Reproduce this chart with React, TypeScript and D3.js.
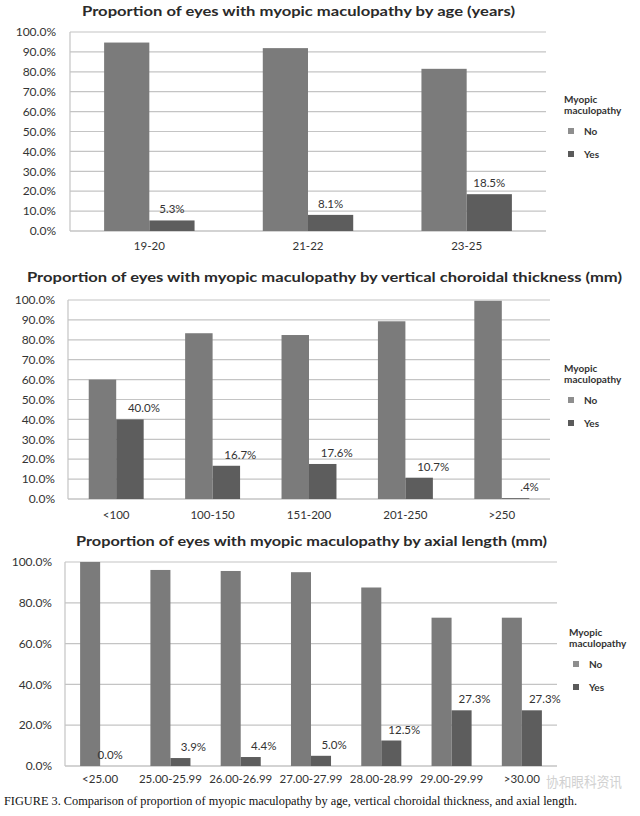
import React from "react";
import * as d3 from "d3";

const seriesNames = ["No", "Yes"];

const ageCats = ["19-20", "21-22", "23-25"];
const ageNo = [94.7, 91.9, 81.5];
const ageYes = [5.3, 8.1, 18.5];
const ageLabels = ["5.3%", "8.1%", "18.5%"];

const chorCats = ["<100", "100-150", "151-200", "201-250", ">250"];
const chorNo = [60.0, 83.3, 82.4, 89.3, 99.6];
const chorYes = [40.0, 16.7, 17.6, 10.7, 0.4];
const chorLabels = ["40.0%", "16.7%", "17.6%", "10.7%", ".4%"];

const axCats = ["<25.00", "25.00-25.99", "26.00-26.99", "27.00-27.99", "28.00-28.99", "29.00-29.99", ">30.00"];
const axNo = [100.0, 96.1, 95.6, 95.0, 87.5, 72.7, 72.7];
const axYes = [0.0, 3.9, 4.4, 5.0, 12.5, 27.3, 27.3];
const axLabels = ["0.0%", "3.9%", "4.4%", "5.0%", "12.5%", "27.3%", "27.3%"];

const ticks10 = [0, 10, 20, 30, 40, 50, 60, 70, 80, 90, 100];
const ticks20 = [0, 20, 40, 60, 80, 100];

const titles = [
  "Proportion of eyes with myopic maculopathy by age (years)",
  "Proportion of eyes with myopic maculopathy by vertical choroidal thickness (mm)",
  "Proportion of eyes with myopic maculopathy by axial length (mm)",
];
const caption = "FIGURE 3. Comparison of proportion of myopic maculopathy by age, vertical choroidal thickness, and axial length.";
const legendTitle = ["Myopic", "maculopathy"];
const watermark = "协和眼科资讯";

const COL_NO = "#7b7b7b";
const COL_YES = "#5d5d5d";
const LEG_NO = "#8e8e8e";
const LEG_YES = "#5a5a5a";
const GRID = "#c4c4c4";
const FONT = "Lato, 'Open Sans', sans-serif";

type ChartProps = {
  title: string;
  titleX: number;
  titleY: number;
  titleLen: number;
  cats: string[];
  no: number[];
  yes: number[];
  labels: string[];
  ticks: number[];
  left: number;
  right: number;
  top: number;
  bottom: number;
  tickX: number;
  catY: number;
  labelDx: number;
  legX: number;
  legY: number;
};

function Chart(p: ChartProps) {
  const y = d3.scaleLinear().domain([0, 100]).range([p.bottom, p.top]);
  const x0 = d3.scaleBand<string>().domain(p.cats).range([p.left, p.right]).paddingInner(0.43).paddingOuter(0.215);
  const x1 = d3.scaleBand<string>().domain(seriesNames).range([0, x0.bandwidth()]);
  const fmt = d3.format(".1f");
  return (
    <g>
      <text x={p.titleX} y={p.titleY} fontFamily={FONT} fontWeight="bold" fontSize={14} fill="#2a2a2a"
        textLength={p.titleLen} lengthAdjust="spacingAndGlyphs">{p.title}</text>
      {p.ticks.map((t) => (
        <g key={t}>
          <line x1={p.left} x2={p.right} y1={y(t)} y2={y(t)} stroke={t === 0 ? "#a8a8a8" : GRID} strokeWidth={1.2} />
          <text x={p.tickX} y={y(t)} dy="0.35em" textAnchor="end" fontFamily={FONT} fontSize={12} fill="#333">
            {fmt(t) + "%"}
          </text>
        </g>
      ))}
      <line x1={p.left} x2={p.left} y1={p.top} y2={p.bottom} stroke={GRID} strokeWidth={1.2} />
      {p.cats.map((c, i) => {
        const bx = x0(c)!;
        const xn = bx + x1("No")!;
        const xy = bx + x1("Yes")!;
        const w = x1.bandwidth();
        const dx = p.yes[i] === 0 ? 0 : p.labelDx;
        return (
          <g key={c}>
            <rect x={xn} y={y(p.no[i])} width={w} height={p.bottom - y(p.no[i])} fill={COL_NO} />
            <rect x={xy} y={y(p.yes[i])} width={w} height={p.bottom - y(p.yes[i])} fill={COL_YES} />
            <text x={xy + w / 2 + dx} y={y(p.yes[i]) - 7} textAnchor="middle" fontFamily={FONT} fontSize={11.5} fill="#333">
              {p.labels[i]}
            </text>
            <text x={bx + x0.bandwidth() / 2} y={p.catY} textAnchor="middle" fontFamily={FONT} fontSize={11.5} fill="#333">
              {c}
            </text>
          </g>
        );
      })}
      <g fontFamily={FONT} fontSize={10} fill="#333">
        <text x={p.legX} y={p.legY} fontWeight="bold">{legendTitle[0]}</text>
        <text x={p.legX} y={p.legY + 11} fontWeight="bold">{legendTitle[1]}</text>
        {seriesNames.map((s, i) => (
          <g key={s}>
            <rect x={p.legX + 4} y={p.legY + 25 + i * 23} width={6} height={6} fill={i === 0 ? LEG_NO : LEG_YES} />
            <text x={p.legX + 20} y={p.legY + 32 + i * 23} fontWeight="bold">{s}</text>
          </g>
        ))}
      </g>
    </g>
  );
}

export default function App() {
  return (
    <svg width={640} height={816} style={{ position: "absolute", left: 0, top: 0, background: "#fff" }}>
      <rect width={640} height={816} fill="#fff" />
      <Chart title={titles[0]} titleX={82} titleY={16} titleLen={433}
        cats={ageCats} no={ageNo} yes={ageYes} labels={ageLabels} ticks={ticks10}
        left={70} right={546} top={32} bottom={231} tickX={56} catY={250} labelDx={0} legX={564} legY={103} />
      <Chart title={titles[1]} titleX={27} titleY={282} titleLen={595}
        cats={chorCats} no={chorNo} yes={chorYes} labels={chorLabels} ticks={ticks10}
        left={68} right={550} top={300} bottom={499} tickX={55} catY={519} labelDx={14} legX={564} legY={372} />
      <Chart title={titles[2]} titleX={76} titleY={546} titleLen={471}
        cats={axCats} no={axNo} yes={axYes} labels={axLabels} ticks={ticks20}
        left={65} right={557} top={562} bottom={766} tickX={52} catY={783} labelDx={13} legX={569} legY={636} />
      <text x={546} y={787} fontFamily="'Noto Sans CJK SC', sans-serif" fontSize={14} fill="#c9c9c9" opacity={0.85}
        textLength={76} lengthAdjust="spacingAndGlyphs">
        {watermark}
      </text>
      <text x={4} y={805} fontFamily="'Liberation Serif', 'Times New Roman', serif" fontSize={11.5} fill="#111"
        textLength={573} lengthAdjust="spacingAndGlyphs">{caption}</text>
    </svg>
  );
}
